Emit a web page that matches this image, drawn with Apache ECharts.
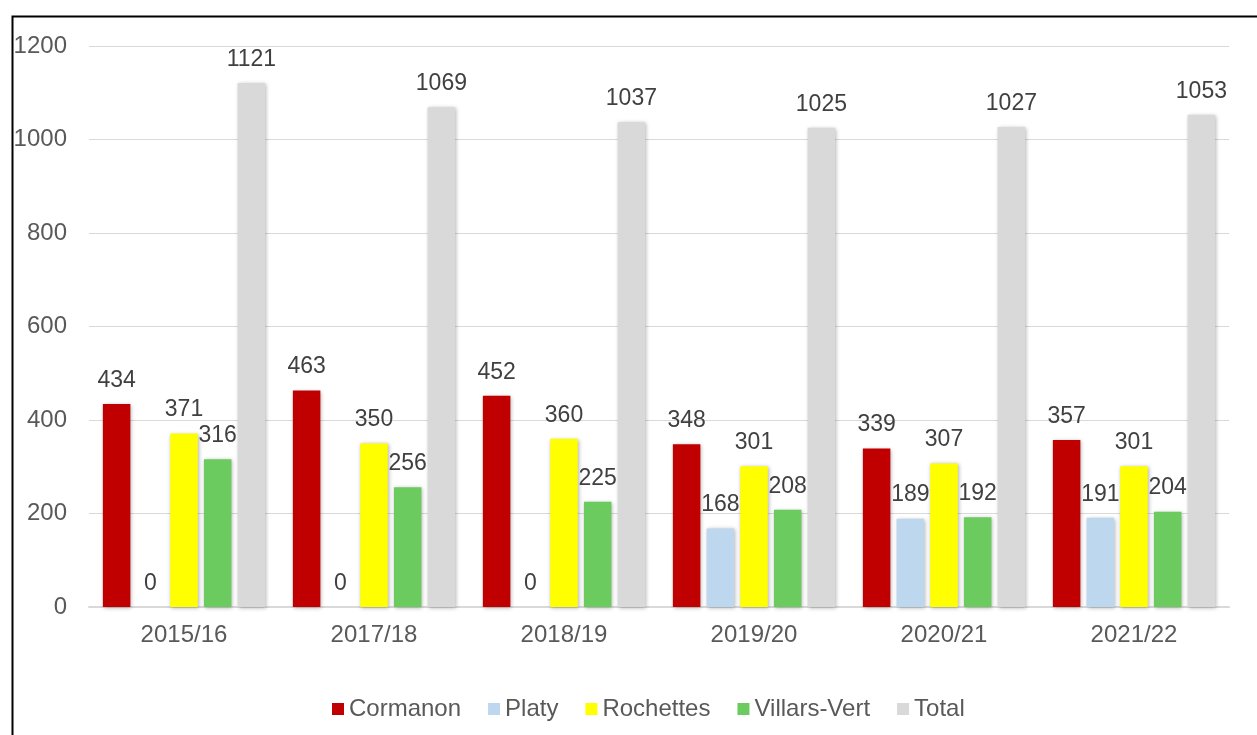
<!DOCTYPE html>
<html>
<head>
<meta charset="utf-8">
<script src="https://cdn.jsdelivr.net/npm/echarts@6/dist/echarts.min.js"></script>
<style>
html,body{margin:0;padding:0;background:#fff;}
#chart{width:1257px;height:735px;}
</style>
</head>
<body>
<div id="chart"></div>
<script>
const categories = ['2015/16','2017/18','2018/19','2019/20','2020/21','2021/22'];
const cormanon = [434,463,452,348,339,357];
const platy = [0,0,0,168,189,191];
const rochettes = [371,350,360,301,307,301];
const villarsVert = [316,256,225,208,192,204];
const total = [1121,1069,1037,1025,1027,1053];
const seriesNames = ['Cormanon','Platy','Rochettes','Villars-Vert','Total'];
const colors = ['#C00000','#BDD7EE','#FFFF00','#6BCB5F','#D9D9D9'];
const seriesData = [cormanon, platy, rochettes, villarsVert, total];

const FONT = '"Liberation Sans", Arial, sans-serif';
const chart = echarts.init(document.getElementById('chart'), null, {renderer:'canvas'});
chart.setOption({
  animation:false,
  backgroundColor:'#fff',
  graphic:[{
    type:'rect', left:10, top:14, z:100, silent:true,
    shape:{x:0,y:0,width:1300,height:800},
    style:{fill:'none', stroke:'#000', lineWidth:2}
  }],
  grid:{left:89,right:28,top:46,bottom:128,containLabel:false},
  legend:{
    data:seriesNames,
    left:327, top:692,
    icon:'rect', itemWidth:12, itemHeight:12, itemGap:27,
    textStyle:{fontFamily:FONT,fontSize:24,color:'#595959'}
  },
  xAxis:{
    type:'category', data:categories,
    axisLine:{lineStyle:{color:'#D9D9D9',width:2}},
    axisTick:{show:false},
    axisLabel:{fontFamily:FONT,fontSize:24,color:'#595959',margin:16}
  },
  yAxis:{
    type:'value', min:0, max:1200, interval:200,
    axisLine:{show:false}, axisTick:{show:false},
    splitLine:{lineStyle:{color:'#D9D9D9',width:1.2}},
    axisLabel:{fontFamily:FONT,fontSize:24,color:'#595959',margin:22,formatter:function(v){return String(v);}}
  },
  series: seriesNames.map((n,i)=>({
    name:n, type:'bar', data:seriesData[i],
    barWidth:27.5, barGap:'22.5%', barCategoryGap:'14.6%',
    itemStyle:{color:colors[i], shadowBlur:4, shadowColor:'rgba(0,0,0,0.3)', shadowOffsetX:1, shadowOffsetY:1},
    label:{show:true, position:'top', distance:12, fontFamily:FONT, fontSize:23, color:'#404040'}
  }))
});
</script>
</body>
</html>
